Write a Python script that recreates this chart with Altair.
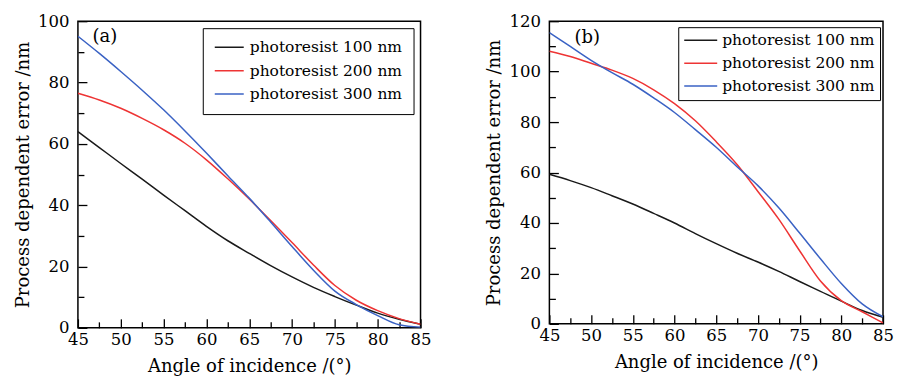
import altair as alt
import pandas as pd

angles = [45, 47.5, 50, 52.5, 55, 57.5, 60, 62.5, 65, 67.5, 70, 72.5, 75, 77.5, 80, 82.5, 85]

a_100 = [64.0, 58.8, 53.6, 48.5, 43.3, 38.2, 33.1, 28.4, 24.3, 20.3, 16.6, 13.2, 10.2, 7.4, 4.8, 2.8, 1.2]
a_200 = [76.5, 74.3, 71.6, 68.3, 64.6, 60.2, 54.8, 48.6, 42.0, 35.0, 27.8, 20.5, 13.8, 9.0, 5.6, 3.0, 1.2]
a_300 = [95.1, 89.5, 83.6, 77.5, 71.1, 64.2, 57.0, 49.6, 42.3, 34.5, 26.5, 18.8, 12.0, 7.6, 4.0, 1.0, 0.2]

b_100 = [59.3, 56.8, 54.0, 50.8, 47.5, 43.8, 40.0, 35.8, 31.8, 28.0, 24.5, 20.8, 16.8, 12.9, 9.0, 5.3, 2.6]
b_200 = [108.1, 106.0, 103.3, 100.6, 97.3, 92.8, 87.3, 80.5, 72.2, 63.2, 52.5, 41.5, 29.0, 17.0, 9.2, 4.8, 0.4]
b_300 = [115.5, 110.0, 104.5, 99.6, 95.0, 89.6, 83.8, 77.0, 70.0, 62.3, 54.8, 46.0, 36.0, 25.8, 16.0, 7.9, 2.8]

series_names = ["photoresist 100 nm", "photoresist 200 nm", "photoresist 300 nm"]
colors = ["#1a1a1a", "#ee3434", "#3a62c4"]

x_major = [45, 50, 55, 60, 65, 70, 75, 80, 85]
x_minor = [47.5, 52.5, 57.5, 62.5, 67.5, 72.5, 77.5, 82.5]
ya_major = [0, 20, 40, 60, 80, 100]
ya_minor = [10, 30, 50, 70, 90]
yb_major = [0, 20, 40, 60, 80, 100, 120]
yb_minor = [10, 30, 50, 70, 90, 110]

FONT = "DejaVu Serif"


def make_df(vals):
    rows = []
    for name, v in zip(series_names, vals):
        for a, y in zip(angles, v):
            rows.append({"angle": a, "value": y, "series": name})
    return pd.DataFrame(rows)


def panel(df, ymax, ymaj, ymin, letter, w, h, lx, ly, leg_x, leg_y, leg_pad, leg_row, sym_w, lab_off):
    xs = alt.Scale(domain=[45, 85], nice=False, zero=False)
    ys = alt.Scale(domain=[0, ymax], nice=False)
    lines = alt.Chart(df).mark_line(strokeWidth=1.5, interpolate="monotone", clip=True).encode(
        x=alt.X("angle:Q", scale=xs,
                axis=alt.Axis(values=x_major, tickSize=9, offset=-9, domain=False, grid=False,
                              labelPadding=4, labelFlush=False, format="d", orient="bottom",
                              title="Angle of incidence /(°)", titlePadding=9)),
        y=alt.Y("value:Q", scale=ys,
                axis=alt.Axis(values=ymaj, tickSize=9, offset=-9, domain=False, grid=False,
                              labelPadding=9, labelFlush=False, format="d", orient="left",
                              title="Process dependent error /nm", titlePadding=5)),
        color=alt.Color("series:N",
                        scale=alt.Scale(domain=series_names, range=colors),
                        legend=alt.Legend(title=None, orient="none", legendX=leg_x, legendY=leg_y,
                                          padding=leg_pad, rowPadding=leg_row, clipHeight=16,
                                          symbolType="stroke", symbolSize=sym_w * sym_w,
                                          symbolStrokeWidth=1.5, labelOffset=lab_off,
                                          labelFont=FONT, labelFontSize=15.5, labelColor="black",
                                          strokeColor="black", fillColor="white")),
    )
    minor = alt.Chart(df).mark_point(opacity=0).encode(
        x=alt.X("angle:Q", scale=xs,
                axis=alt.Axis(values=x_minor, tickSize=6, offset=-6, domain=False, grid=False,
                              labels=False, title=None, orient="bottom")),
        y=alt.Y("value:Q", scale=ys,
                axis=alt.Axis(values=ymin, tickSize=6, offset=-6, domain=False, grid=False,
                              labels=False, title=None, orient="left")),
    )
    label = alt.Chart(pd.DataFrame({"t": [letter]})).mark_text(
        font=FONT, fontSize=18, align="center", baseline="middle", color="black"
    ).encode(text="t:N", x=alt.value(lx), y=alt.value(ly))
    return alt.layer(lines, minor, label).resolve_axis(
        x="independent", y="independent"
    ).properties(width=w, height=h)


pa = panel(make_df([a_100, a_200, a_300]), 100, ya_major, ya_minor, "(a)", 343, 307, 27, 16,
           125, 7, 11, 6.5, 29, 5)
pb = panel(make_df([b_100, b_200, b_300]), 120, yb_major, yb_minor, "(b)", 334, 303, 38, 17,
           129, 6, 5, 6, 33, 4)

chart = alt.hconcat(pa, pb, spacing=52).resolve_scale(color="independent").resolve_legend(
    color="independent"
).properties(
    padding={"left": 5, "top": 4, "right": 0, "bottom": 0}
).configure_view(
    stroke="black", strokeWidth=1.5
).configure_axis(
    labelFont=FONT, labelFontSize=16.5, labelColor="black",
    titleFont=FONT, titleFontSize=18, titleFontWeight="normal", titleColor="black",
    tickColor="black", tickWidth=1.3
)

chart.save("out.html", embed_options={"renderer": "svg", "actions": False})
